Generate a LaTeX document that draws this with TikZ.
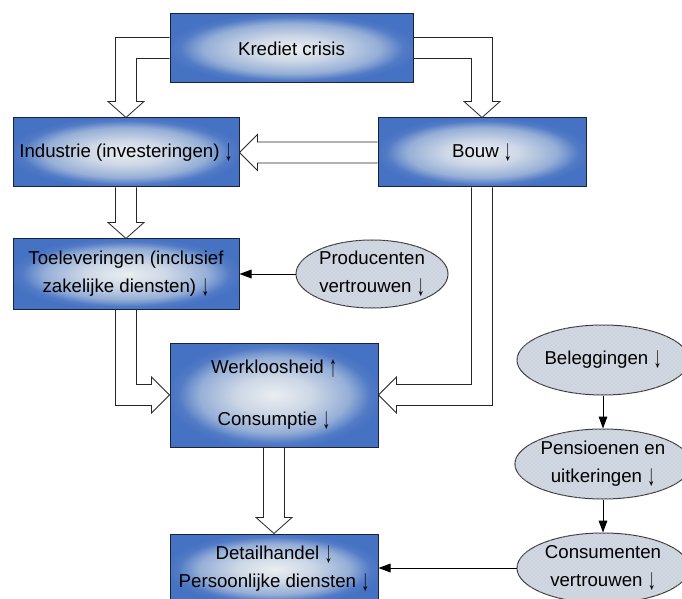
\documentclass[tikz,border=0pt]{standalone}
\usepackage{graphicx}
\usepackage{fontspec}
\setmainfont{Liberation Sans}
\usetikzlibrary{shapes.geometric,arrows.meta,calc,backgrounds,patterns}

\definecolor{boxblue}{RGB}{70,114,195}
\definecolor{glowmid}{RGB}{150,175,215}
\definecolor{glowlight}{RGB}{205,215,230}
\definecolor{glowcore}{RGB}{234,238,240}
\definecolor{boxline}{RGB}{25,35,60}
\definecolor{ovalfill}{RGB}{204,211,222}
\definecolor{ovalline}{RGB}{60,60,60}
\pgfdeclareradialshading{boxglow}{\pgfpoint{0bp}{0bp}}{%
  color(0bp)=(glowcore);
  color(9bp)=(glowlight);
  color(18bp)=(glowmid);
  color(23bp)=(boxblue!85!glowmid);
  color(26bp)=(boxblue);
  color(50bp)=(boxblue)}
\newcommand{\omlaag}{\raisebox{-0.3ex}{\scalebox{0.85}[1.6]{↓}}}
\newcommand{\omhoog}{\raisebox{-0.3ex}{\scalebox{0.85}[1.6]{↑}}}

\begin{document}
\begin{tikzpicture}[x=0.75pt,y=-0.75pt,
    every node/.style={font=\fontsize{14}{21}\selectfont},
    blok/.style={draw=boxline,line width=0.75pt,shade,shading=boxglow,align=center,inner sep=0pt},
    ovaal/.style={ellipse,draw=ovalline,line width=0.75pt,fill=ovalfill,
        postaction={pattern=crosshatch dots,pattern color=white!55!ovalfill},align=center,inner sep=0pt},
    holpijl/.style={draw=black!85,line width=0.6pt,fill=white,line join=miter},
    pijl/.style={draw=black,line width=0.75pt,-{Triangle[length=9pt,width=6.5pt]}}]
  \useasboundingbox (0,0) rectangle (682,599);

  % blokken
  \node[blok,minimum width=182.25pt,minimum height=51.75pt] (krediet) at (291.5,48.5) {Krediet crisis};
  \node[blok,minimum width=169.5pt,minimum height=51.75pt] (industrie) at (126,152.5) {Industrie (investeringen) \omlaag};
  \node[blok,minimum width=156pt,minimum height=51.75pt] (bouw) at (482,152.5) {Bouw \omlaag};
  \node[blok,minimum width=169.5pt,minimum height=52.5pt] (toelever) at (126,274) {Toeleveringen (inclusief\\zakelijke diensten) \omlaag};
  \node[blok,minimum width=156pt,minimum height=78pt] (werk) at (274,395) {Werkloosheid \omhoog\\[18pt]Consumptie \omlaag};
  \node[blok,minimum width=156pt,minimum height=52.5pt] (detail) at (274,569) {Detailhandel \omlaag\\Persoonlijke diensten \omlaag};

  % ovalen
  \node[ovaal,minimum width=114pt,minimum height=51pt] (producenten) at (372,274) {Producenten\\vertrouwen \omlaag};
  \node[ovaal,minimum width=129pt,minimum height=52.5pt] (beleg) at (603,360) {Beleggingen \omlaag};
  \node[ovaal,minimum width=129pt,minimum height=52.5pt] (pensioen) at (603,464) {Pensioenen en\\uitkeringen \omlaag};
  \node[ovaal,minimum width=129pt,minimum height=52.5pt] (consument) at (603,568) {Consumenten\\vertrouwen \omlaag};

  % holle pijlen
  \begin{scope}[on background layer]
    \draw[holpijl] ($(krediet.north west)+(0,24)$) -| ($(industrie.north)+(-10.5,-16)$) -- ++(-7.5,0)
      -- (industrie.north) -- ++(18,-16) -- ++(-7.5,0) |- ($(krediet.north west)+(0,45)$);
    \draw[holpijl] ($(krediet.north east)+(0,24)$) -| ($(bouw.north)+(10.5,-16)$) -- ++(7.5,0)
      -- (bouw.north) -- ++(-18,-16) -- ++(7.5,0) |- ($(krediet.north east)+(0,45)$);
    \draw[holpijl] ($(bouw.west)+(0,-10.5)$) -- ($(industrie.east)+(18,-10.5)$) -- ++(0,-7.5)
      -- (industrie.east) -- ++(18,18) -- ++(0,-7.5) -- ($(bouw.west)+(0,10.5)$);
    \draw[holpijl] ($(industrie.south)+(-10.5,0)$) -- ($(toelever.north)+(-10.5,-16)$) -- ++(-7.5,0)
      -- (toelever.north) -- ++(18,-16) -- ++(-7.5,0) -- ($(industrie.south)+(10.5,0)$);
    \draw[holpijl] ($(toelever.south)+(-10.5,0)$) |- ($(werk.west)+(-18,10.5)$) -- ++(0,7.5)
      -- (werk.west) -- ++(-18,-18) -- ++(0,7.5) -| ($(toelever.south)+(10.5,0)$);
    \draw[holpijl] ($(bouw.south)+(10.5,0)$) |- ($(werk.east)+(18,10.5)$) -- ++(0,7.5)
      -- (werk.east) -- ++(18,-18) -- ++(0,7.5) -| ($(bouw.south)+(-10.5,0)$);
    \draw[holpijl] ($(werk.south)+(-10.5,0)$) -- ($(detail.north)+(-10.5,-16)$) -- ++(-7.5,0)
      -- (detail.north) -- ++(18,-16) -- ++(-7.5,0) -- ($(werk.south)+(10.5,0)$);
  \end{scope}

  % dunne pijlen
  \draw[pijl] (producenten) -- (toelever);
  \draw[pijl] (beleg) -- (pensioen);
  \draw[pijl] (pensioen) -- (consument);
  \draw[pijl] (consument.west) -- (consument.west -| detail.east);
\end{tikzpicture}
\end{document}
